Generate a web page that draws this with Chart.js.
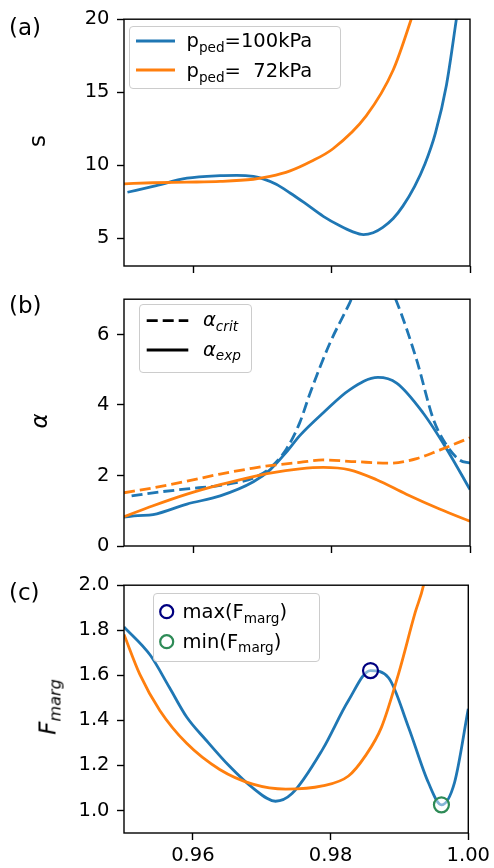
<!DOCTYPE html>
<html><head><meta charset="utf-8">
<script src="https://cdn.jsdelivr.net/npm/chart.js@4.4.0/dist/chart.umd.min.js"></script>
<style>
html,body{margin:0;padding:0;background:#fff;}
#fig{position:relative;width:494px;height:868px;overflow:hidden;font-family:"DejaVu Sans",sans-serif;color:#000;background:#fff;}
canvas{position:absolute;left:0;}
.t{position:absolute;white-space:pre;font-size:19.5px;line-height:19.5px;z-index:5;}
.sub{font-size:70%;position:relative;top:0.33em;}
.it{font-style:italic;}
.lab{position:absolute;font-size:23px;line-height:23px;white-space:pre;}
.leg{position:absolute;border:1px solid #cccccc;border-radius:4px;background:rgba(255,255,255,0.8);box-sizing:border-box;z-index:4;}
.rot{position:absolute;transform:translate(-50%,-50%) rotate(-90deg);white-space:pre;font-size:23px;line-height:23px;}
svg{position:absolute;left:0;top:0;z-index:6;}
</style></head>
<body>
<div id="fig">
  <canvas id="ca" width="494" height="290" style="top:0px"></canvas>
  <canvas id="cb" width="494" height="290" style="top:280px"></canvas>
  <canvas id="cc" width="494" height="302" style="top:566px"></canvas>

  <div class="lab" style="left:9px;top:16px">(a)</div>
  <div class="lab" style="left:9px;top:294px">(b)</div>
  <div class="lab" style="left:9px;top:581px">(c)</div>

  <div class="rot" style="left:36.6px;top:140.5px">s</div>
  <div class="rot it" style="left:39px;top:420.5px">α</div>
  <div class="rot it" style="left:49px;top:707px">F<span class="sub">marg</span></div>

  <div class="leg" style="left:129px;top:26px;width:212px;height:63px"></div>
  <div class="t" style="left:186.5px;top:31.2px">p<span class="sub">ped</span>=100kPa</div>
  <div class="t" style="left:186.5px;top:61.2px">p<span class="sub">ped</span>=  72kPa</div>

  <div class="leg" style="left:139px;top:304px;width:113px;height:69px"></div>
  <div class="t it" style="left:203px;top:310.2px">α<span class="sub">crit</span></div>
  <div class="t it" style="left:203px;top:339.5px">α<span class="sub">exp</span></div>

  <div class="leg" style="left:153px;top:593px;width:167px;height:69px"></div>
  <div class="t" style="left:182.5px;top:602px">max(F<span class="sub">marg</span>)</div>
  <div class="t" style="left:182.5px;top:631.5px">min(F<span class="sub">marg</span>)</div>

  <svg width="494" height="868">
    <line x1="136" y1="41" x2="175" y2="41" stroke="#1f77b4" stroke-width="2.8"/>
    <line x1="136" y1="70" x2="175" y2="70" stroke="#ff7f0e" stroke-width="2.8"/>
    <line x1="146.7" y1="320.7" x2="188.3" y2="320.7" stroke="#000" stroke-width="2.8" stroke-dasharray="11 5"/>
    <line x1="146.7" y1="350" x2="188.3" y2="350" stroke="#000" stroke-width="2.8"/>
    <circle cx="166.7" cy="611.7" r="6.5" fill="none" stroke="#000080" stroke-width="2.2"/>
    <circle cx="166.7" cy="641.7" r="6.5" fill="none" stroke="#2e8b57" stroke-width="2.2"/>
  </svg>
</div>
<script>
// ---------- data ----------
const X_TICKS = [0.96, 0.98, 1.00];
const S_TICKS = [5, 10, 15, 20];
const ALPHA_TICKS = [0, 2, 4, 6];
const F_TICKS = [1.0, 1.2, 1.4, 1.6, 1.8, 2.0];

// (a) s
const a100_x = [0.9505,0.9542,0.9591,0.9639,0.9663,0.9687,0.9701,0.9720,0.9740,0.9760,0.9788,0.9812,0.9830,0.9846,0.9860,0.9874,0.9889,0.9903,0.9920,0.9935,0.9950,0.9966,0.9980,1.0000];
const a100_s = [8.15,8.55,9.11,9.29,9.31,9.23,9.07,8.70,8.10,7.45,6.50,5.85,5.45,5.25,5.38,5.75,6.35,7.20,8.55,10.1,12.2,15.5,19.9,26.5];
const a72_x  = [0.9500,0.9542,0.9591,0.9639,0.9687,0.9711,0.9740,0.9770,0.9802,0.9850,0.9889,0.9915,0.9940,0.9965];
const a72_s  = [8.73,8.80,8.84,8.89,9.04,9.23,9.61,10.25,11.13,13.38,16.52,20.0,23.8,28.0];

// (b) alpha
const b100exp_x  = [0.9500,0.9520,0.9542,0.9591,0.9639,0.9687,0.9711,0.9735,0.9754,0.9788,0.9826,0.9867,0.9894,0.9932,0.9966,1.0000];
const b100exp_a  = [0.82,0.86,0.89,1.19,1.42,1.82,2.16,2.67,3.13,3.78,4.43,4.78,4.62,3.78,2.76,1.60];
const b100crit_x = [0.9511,0.9542,0.9591,0.9639,0.9687,0.9711,0.9735,0.9754,0.9769,0.9797,0.9826,0.9845,0.9860,0.9875,0.9893,0.9923,0.9947,0.9966,0.9985,1.0000];
const b100crit_a = [1.42,1.51,1.62,1.72,1.93,2.21,2.76,3.50,4.34,5.73,6.89,7.70,8.00,7.70,6.98,5.27,3.60,2.86,2.44,2.35];
const b72exp_x   = [0.9500,0.9542,0.9591,0.9639,0.9687,0.9711,0.9754,0.9788,0.9826,0.9865,0.9908,0.9956,1.0000];
const b72exp_a   = [0.83,1.14,1.47,1.74,1.97,2.07,2.19,2.23,2.16,1.88,1.47,1.05,0.70];
const b72crit_x  = [0.9500,0.9542,0.9591,0.9639,0.9687,0.9711,0.9754,0.9788,0.9836,0.9884,0.9923,0.9956,1.0000];
const b72crit_a  = [1.51,1.65,1.84,2.04,2.21,2.28,2.37,2.44,2.39,2.35,2.48,2.72,3.07];

// (c) F_marg
const c100_x = [0.9500,0.9538,0.9566,0.9591,0.9619,0.9653,0.9687,0.9720,0.9744,0.9788,0.9826,0.9858,0.9884,0.9913,0.9942,0.9961,0.9980,1.0000];
const c100_f = [1.815,1.69,1.546,1.415,1.313,1.197,1.10,1.041,1.075,1.269,1.488,1.621,1.59,1.371,1.124,1.025,1.124,1.451];
const c72_x  = [0.9500,0.9523,0.9552,0.9591,0.9639,0.9687,0.9735,0.9788,0.9826,0.9850,0.9874,0.9899,0.9923,0.9935,0.9955];
const c72_f  = [1.781,1.604,1.444,1.298,1.182,1.117,1.095,1.109,1.153,1.24,1.37,1.61,1.88,2.0,2.35];
const maxF_x = [0.9858], maxF_f = [1.621];
const minF_x = [0.9961], minF_f = [1.025];

// ---------- helpers ----------
const BLUE = '#1f77b4', ORANGE = '#ff7f0e';
const FONT = {family:'DejaVu Sans', size:19.5};
function pts(xs, ys){ return xs.map((x,i)=>({x:x, y:ys[i]})); }
function line(xs, ys, color, dashed, order){
  return {data:pts(xs,ys), borderColor:color, borderWidth:2.8, pointRadius:0, fill:false,
          cubicInterpolationMode:'monotone', borderDash: dashed ? [11,5] : [], order:order};
}
const framePlugin = {id:'frame', afterDatasetsDraw(c){
  const a=c.chartArea, ctx=c.ctx; ctx.save(); ctx.lineWidth=1.4; ctx.strokeStyle='#000';
  ctx.strokeRect(a.left, a.top, a.right-a.left, a.bottom-a.top); ctx.restore(); }};
function xScale(show, h){
  return {type:'linear', min:0.95, max:1.0,
    afterBuildTicks: s => { s.ticks = X_TICKS.map(v=>({value:v})); },
    afterFit: s => { s.height = h; },
    grid:{drawOnChartArea:false, drawTicks:true, tickLength:7, tickWidth:1.4, tickColor:'#000'},
    border:{display:false},
    ticks:{padding:4, color:'#000', font:FONT, maxRotation:0, autoSkip:false,
           callback: v => show ? Number(v).toFixed(2) : ''}};
}
function yScale(min, max, ticks, dec){
  return {type:'linear', min:min, max:max,
    afterBuildTicks: s => { s.ticks = ticks.map(v=>({value:v})); },
    afterFit: s => { s.width = 124; },
    grid:{drawOnChartArea:false, drawTicks:true, tickLength:7, tickWidth:1.4, tickColor:'#000'},
    border:{display:false},
    ticks:{padding:7.5, color:'#000', font:FONT, autoSkip:false,
           callback: v => Number(v).toFixed(dec)}};
}
function make(id, datasets, ys, xs){
  new Chart(document.getElementById(id), {
    type:'line',
    data:{datasets:datasets},
    options:{responsive:false, animation:false, devicePixelRatio:1,
      layout:{padding:{left:0, right:24, top:15, bottom:0}},
      plugins:{legend:{display:false}, tooltip:{enabled:false}},
      scales:{x:xs, y:ys}},
    plugins:[framePlugin]
  });
}

make('ca', [
  line(a100_x, a100_s, BLUE, false, 1),
  line(a72_x, a72_s, ORANGE, false, 0)
], yScale(3.1, 20, S_TICKS, 0), xScale(false, 24));

make('cb', [
  line(b100crit_x, b100crit_a, BLUE, true, 3),
  line(b100exp_x, b100exp_a, BLUE, false, 2),
  line(b72crit_x, b72crit_a, ORANGE, true, 1),
  line(b72exp_x, b72exp_a, ORANGE, false, 0)
], yScale(0, 7, ALPHA_TICKS, 0), xScale(false, 24));

make('cc', [
  {data:pts(maxF_x, maxF_f), showLine:false, pointRadius:7.5, pointBorderWidth:2.2,
   pointBorderColor:'#000080', pointBackgroundColor:'rgba(255,255,255,0.45)', order:-2},
  {data:pts(minF_x, minF_f), showLine:false, pointRadius:7.5, pointBorderWidth:2.2,
   pointBorderColor:'#2e8b57', pointBackgroundColor:'rgba(255,255,255,0.45)', order:-1},
  line(c100_x, c100_f, BLUE, false, 1),
  line(c72_x, c72_f, ORANGE, false, 0)
], yScale(0.9, 2.0, F_TICKS, 1), xScale(true, 35));
</script>
</body></html>
